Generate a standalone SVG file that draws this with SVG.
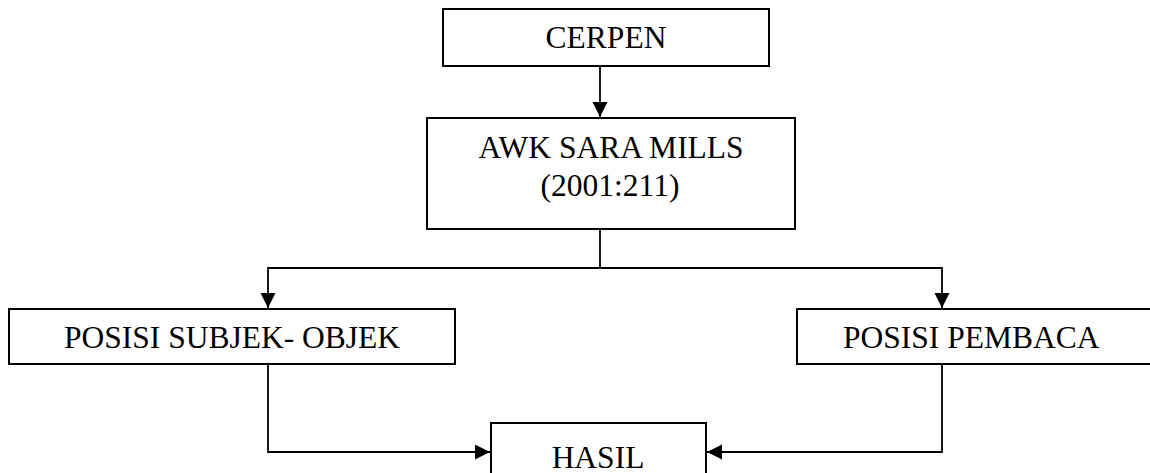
<svg xmlns="http://www.w3.org/2000/svg" width="1150" height="473" viewBox="0 0 1150 473">
<style>
.box{fill:#fff;stroke:#000;stroke-width:2}
.lbl{font-family:"Liberation Serif","Times New Roman",serif;font-size:31.5px;fill:#000}
.c{fill:none;stroke:#000;stroke-width:1.8}
</style>
<defs>
<marker id="ah" markerUnits="userSpaceOnUse" markerWidth="16" markerHeight="16" refX="15" refY="7.5" orient="auto">
<path d="M0,0 L15,7.5 L0,15 Z" fill="#000"/>
</marker>
</defs>
<g id="connectors">
<path class="c" d="M600,66 V117" marker-end="url(#ah)"/>
<path class="c" d="M600,229 V268"/>
<path class="c" d="M600,268 H268 V308" marker-end="url(#ah)"/>
<path class="c" d="M600,268 H942 V308" marker-end="url(#ah)"/>
<path class="c" d="M268,364 V452 H490" marker-end="url(#ah)"/>
<path class="c" d="M942,364 V452 H707" marker-end="url(#ah)"/>
</g>
<g id="cerpen">
<rect class="box" x="443" y="9" width="326" height="57"/>
<text class="lbl" x="606" y="48" text-anchor="middle">CERPEN</text>
</g>
<g id="awk">
<rect class="box" x="427" y="118" width="368" height="111"/>
<text class="lbl" x="611" y="158" text-anchor="middle">AWK SARA MILLS</text>
<text class="lbl" x="610" y="196" text-anchor="middle">(2001:211)</text>
</g>
<g id="subjek">
<rect class="box" x="9" y="309" width="446" height="55"/>
<text class="lbl" x="232" y="348" text-anchor="middle">POSISI SUBJEK- OBJEK</text>
</g>
<g id="pembaca">
<rect class="box" x="797" y="309" width="360" height="55"/>
<text class="lbl" x="843" y="348">POSISI PEMBACA</text>
</g>
<g id="hasil">
<rect class="box" x="491" y="423" width="215" height="60"/>
<text class="lbl" x="598" y="468" text-anchor="middle">HASIL</text>
</g>
</svg>
